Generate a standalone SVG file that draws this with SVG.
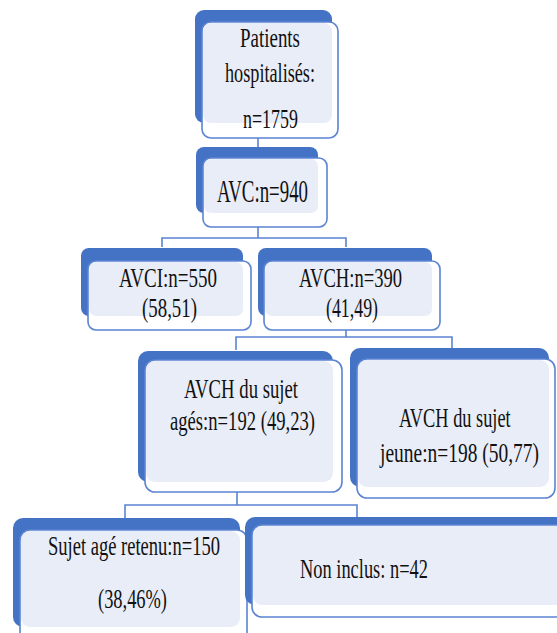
<svg xmlns="http://www.w3.org/2000/svg" width="557" height="633" viewBox="0 0 557 633">
<style>
.bk{fill:#4472C4}
.ol{fill:#ffffff;stroke:#5b84d2;stroke-width:1.6}
.lv{fill:#E9EDF7}
.t{font-family:"Liberation Serif","Times New Roman",serif;font-size:28px;fill:#111;text-anchor:start}
.c{fill:none;stroke:#5b84d2;stroke-width:1.6}
</style>
<rect width="557" height="633" fill="#ffffff"/>
<g id="connectors">
<path class="c" d="M258,138V147"/>
<path class="c" d="M258,227V238M162,247V238H346V247"/>
<path class="c" d="M346,330V337M236,350V337H452V349"/>
<path class="c" d="M237,492V505M125,518V505H357V517"/>
<path class="c" d="M132,628V633"/>
</g>
<g id="n1">
<rect class="bk" x="195" y="10" width="137" height="113" rx="9"/>
<rect class="ol" x="202" y="22" width="136" height="116" rx="9"/>
<rect class="lv" x="203" y="23" width="129" height="100" rx="8"/>
<text class="t" x="240" y="47" textLength="60" lengthAdjust="spacingAndGlyphs">Patients</text>
<text class="t" x="225" y="82" textLength="90" lengthAdjust="spacingAndGlyphs">hospitalisés:</text>
<text class="t" x="243" y="128" textLength="55" lengthAdjust="spacingAndGlyphs">n=1759</text>
</g>
<g id="n2">
<rect class="bk" x="196" y="147" width="122" height="66" rx="8"/>
<rect class="ol" x="203" y="158" width="124" height="69" rx="8"/>
<rect class="lv" x="204" y="159" width="114" height="54" rx="7"/>
<text class="t" x="217" y="202" style="font-size:31px" textLength="91" lengthAdjust="spacingAndGlyphs">AVC:n=940</text>
</g>
<g id="n3">
<rect class="bk" x="81" y="248" width="162" height="68" rx="8"/>
<rect class="ol" x="88" y="261" width="163" height="69" rx="8"/>
<rect class="lv" x="89" y="262" width="154" height="54" rx="7"/>
<text class="t" x="119" y="287" textLength="98" lengthAdjust="spacingAndGlyphs">AVCI:n=550</text>
<text class="t" x="142" y="317" textLength="55" lengthAdjust="spacingAndGlyphs">(58,51)</text>
</g>
<g id="n4">
<rect class="bk" x="258" y="248" width="174" height="68" rx="8"/>
<rect class="ol" x="264" y="261" width="176" height="69" rx="8"/>
<rect class="lv" x="265" y="262" width="167" height="54" rx="7"/>
<text class="t" x="299" y="287" textLength="103" lengthAdjust="spacingAndGlyphs">AVCH:n=390</text>
<text class="t" x="326" y="317" textLength="52" lengthAdjust="spacingAndGlyphs">(41,49)</text>
</g>
<g id="n5">
<rect class="bk" x="138" y="351" width="195" height="131" rx="10"/>
<rect class="ol" x="145" y="360" width="197" height="132" rx="10"/>
<rect class="lv" x="146" y="361" width="187" height="121" rx="9"/>
<text class="t" x="184" y="398" textLength="114" lengthAdjust="spacingAndGlyphs">AVCH du sujet</text>
<text class="t" x="170" y="430" textLength="145" lengthAdjust="spacingAndGlyphs">agés:n=192 (49,23)</text>
</g>
<g id="n6">
<rect class="bk" x="350" y="348" width="199" height="139" rx="10"/>
<rect class="ol" x="357" y="359" width="198" height="139" rx="10"/>
<rect class="lv" x="358" y="360" width="191" height="127" rx="9"/>
<text class="t" transform="translate(399,427) scale(0.655,1)">AVCH du sujet</text>
<text class="t" transform="translate(380,462) scale(0.695,1)">jeune:n=198 (50,77)</text>
</g>
<g id="n7">
<rect class="bk" x="13" y="518" width="227" height="109" rx="10"/>
<rect class="ol" x="20" y="530" width="227" height="115" rx="10"/>
<rect class="lv" x="21" y="531" width="219" height="96" rx="9"/>
<text class="t" x="48" y="555" textLength="172" lengthAdjust="spacingAndGlyphs">Sujet agé retenu:n=150</text>
<text class="t" x="98" y="608" textLength="69" lengthAdjust="spacingAndGlyphs">(38,46%)</text>
</g>
<g id="n8">
<rect class="bk" x="245" y="517" width="322" height="88" rx="10"/>
<rect class="ol" x="252" y="525" width="322" height="92" rx="10"/>
<rect class="lv" x="253" y="526" width="314" height="79" rx="9"/>
<text class="t" x="300" y="578" textLength="128" lengthAdjust="spacingAndGlyphs">Non inclus: n=42</text>
</g>
</svg>
